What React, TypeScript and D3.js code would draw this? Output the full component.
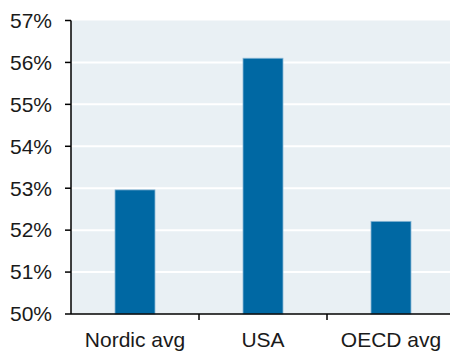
import React from "react";
import * as d3 from "d3";

const categories = ["Nordic avg", "USA", "OECD avg"];
const values = [52.96, 56.1, 52.21];
const yTicks = [50, 51, 52, 53, 54, 55, 56, 57];

export default function App() {
  const W = 450, H = 352;
  const left = 71, right = 455, top = 20.5, bottom = 314;
  const x = d3.scaleBand<string>().domain(categories).range([left, right]).paddingInner(0).paddingOuter(0);
  const y = d3.scaleLinear().domain([50, 57]).range([bottom, top]);
  const bw = x.bandwidth() * 0.3125;
  const font = "'Liberation Sans', Arial, sans-serif";
  return (
    <svg width={W} height={H} style={{ position: "absolute", left: 0, top: 0 }} fontFamily={font}>
      <rect x={left} y={top} width={right - left} height={bottom - top} fill="#e9f0f4" />
      {yTicks.slice(1, -1).map((t) => (
        <line key={t} x1={left} x2={right} y1={y(t)} y2={y(t)} stroke="#ffffff" strokeWidth={2} />
      ))}
      {categories.map((c, i) => (
        <rect
          key={c}
          x={(x(c) as number) + x.bandwidth() / 2 - bw / 2}
          y={y(values[i])}
          width={bw}
          height={bottom - y(values[i])}
          fill="#0068a3"
          stroke="#8ab8d6"
          strokeWidth={0.8}
        />
      ))}
      <line x1={left} x2={left} y1={top} y2={bottom} stroke="#000" strokeWidth={1.5} />
      <line x1={left} x2={right} y1={bottom} y2={bottom} stroke="#000" strokeWidth={1.5} />
      {yTicks.map((t) => (
        <g key={t}>
          <line x1={left - 6} x2={left} y1={y(t)} y2={y(t)} stroke="#000" strokeWidth={1.5} />
          <text x={52} y={y(t)} dy="0.35em" textAnchor="end" fontSize={21} fill="#1a1a1a">
            {t}%
          </text>
        </g>
      ))}
      {categories.map((c, i) => {
        const bx = (x(c) as number);
        return (
          <g key={c}>
            {i > 0 && <line x1={bx} x2={bx} y1={bottom} y2={bottom + 6} stroke="#000" strokeWidth={1.5} />}
            <text x={bx + x.bandwidth() / 2} y={347} textAnchor="middle" fontSize={21} fill="#1a1a1a">
              {c}
            </text>
          </g>
        );
      })}
    </svg>
  );
}
